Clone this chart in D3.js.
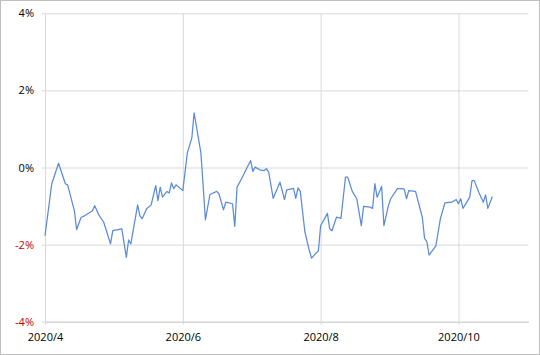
<!DOCTYPE html>
<html><head><meta charset="utf-8">
<script src="https://cdn.jsdelivr.net/npm/d3@7"></script>
<style>
html,body{margin:0;padding:0;background:#fff;}
svg{display:block;}
</style></head>
<body>
<svg id="chart" width="540" height="355"></svg>
<script>
// ---- data ----
const dates = [
"2020-04-01","2020-04-04","2020-04-07","2020-04-10","2020-04-11","2020-04-14","2020-04-15","2020-04-17","2020-04-18","2020-04-22",
"2020-04-23","2020-04-25","2020-04-27","2020-04-30","2020-05-01","2020-05-05","2020-05-07","2020-05-08","2020-05-09","2020-05-12",
"2020-05-13","2020-05-14","2020-05-16","2020-05-18","2020-05-20","2020-05-21","2020-05-22","2020-05-23","2020-05-25","2020-05-26",
"2020-05-27","2020-05-28","2020-05-29","2020-06-01","2020-06-03","2020-06-05","2020-06-06","2020-06-09","2020-06-10","2020-06-11",
"2020-06-13","2020-06-16","2020-06-17","2020-06-19","2020-06-20","2020-06-23","2020-06-24","2020-06-25","2020-06-27","2020-07-01",
"2020-07-02","2020-07-03","2020-07-05","2020-07-07","2020-07-08","2020-07-09","2020-07-11","2020-07-14","2020-07-16","2020-07-17",
"2020-07-20","2020-07-21","2020-07-22","2020-07-23","2020-07-25","2020-07-27","2020-07-28","2020-07-30","2020-07-31","2020-08-01",
"2020-08-04","2020-08-05","2020-08-06","2020-08-08","2020-08-10","2020-08-12","2020-08-13","2020-08-15","2020-08-17","2020-08-19",
"2020-08-20","2020-08-23","2020-08-24","2020-08-25","2020-08-26","2020-08-28","2020-08-29","2020-08-31","2020-09-01","2020-09-04",
"2020-09-06","2020-09-07","2020-09-08","2020-09-09","2020-09-12","2020-09-15","2020-09-16","2020-09-17","2020-09-18","2020-09-21",
"2020-09-23","2020-09-25","2020-09-28","2020-09-30","2020-10-01","2020-10-02","2020-10-03","2020-10-06","2020-10-07","2020-10-08",
"2020-10-10","2020-10-12","2020-10-13","2020-10-14","2020-10-16"
];
const values = [
-1.77,-0.42,0.11,-0.42,-0.45,-1.12,-1.61,-1.29,-1.27,-1.12,
-0.99,-1.25,-1.42,-1.98,-1.64,-1.59,-2.33,-1.88,-1.98,-0.97,
-1.25,-1.33,-1.07,-0.97,-0.47,-0.86,-0.51,-0.77,-0.62,-0.66,
-0.40,-0.55,-0.45,-0.60,0.38,0.77,1.42,0.38,-0.47,-1.36,
-0.70,-0.62,-0.68,-1.10,-0.90,-0.94,-1.53,-0.51,-0.29,0.18,
-0.10,0.01,-0.06,-0.08,-0.03,-0.12,-0.80,-0.38,-0.83,-0.58,
-0.54,-0.80,-0.53,-0.62,-1.66,-2.16,-2.35,-2.22,-2.16,-1.51,
-1.19,-1.59,-1.64,-1.29,-1.32,-0.25,-0.25,-0.62,-0.81,-1.51,
-1.01,-1.03,-1.06,-0.42,-0.77,-0.49,-1.51,-0.99,-0.81,-0.55,
-0.55,-0.56,-0.81,-0.60,-0.62,-1.29,-1.84,-1.92,-2.27,-2.03,
-1.33,-0.92,-0.90,-0.83,-0.94,-0.81,-1.06,-0.77,-0.34,-0.34,
-0.64,-0.90,-0.71,-1.06,-0.75
];
const yTicks = [4, 2, 0, -2, -4];
const xTickDates = ["2020-04-01","2020-06-01","2020-08-01","2020-10-01"];
const xTickLabels = ["2020/4","2020/6","2020/8","2020/10"];
const xDomain = ["2020-04-01","2020-11-01"];

// ---- drawing ----
const parse = d3.utcParse("%Y-%m-%d");
const data = dates.map((d,i)=>({date:parse(d), value:values[i]}));

const svg = d3.select("#chart");
const mLeft = 45, mRight = 528.5, mTop = 13.3, mBottom = 321.7;

const x = d3.scaleUtc().domain(xDomain.map(parse)).range([mLeft, mRight]);
const y = d3.scaleLinear().domain([-4, 4]).range([mBottom, mTop]);

// outer border
svg.append("rect").attr("x",0.5).attr("y",0.5).attr("width",539).attr("height",354)
  .attr("fill","#fff").attr("stroke","#bfbfbf").attr("stroke-width",1);

// horizontal gridlines (y axis)
const yAxis = d3.axisLeft(y).tickValues(yTicks).tickSize(-(mRight-mLeft)).tickSizeOuter(0)
  .tickFormat(d => d + "%").tickPadding(10);
const gy = svg.append("g").attr("transform", `translate(${mLeft},0)`).call(yAxis);
gy.select(".domain").attr("stroke","#d0d0d0");
gy.selectAll(".tick line").attr("stroke","#d9d9d9").attr("stroke-width",1).attr("x1",-3);
gy.selectAll(".tick text")
  .attr("font-family","'Open Sans', 'Noto Sans', sans-serif")
  .attr("font-size","11px")
  .attr("x",-11)
  .attr("fill", d => d < 0 ? "#c00000" : "#000");

// vertical gridlines (x axis)
const xAxis = d3.axisBottom(x).tickValues(xTickDates.map(parse))
  .tickSize(-(mBottom-mTop)).tickSizeOuter(0)
  .tickFormat((d,i) => xTickLabels[i]).tickPadding(12);
const gx = svg.append("g").attr("transform", `translate(0,${mBottom})`).call(xAxis);
gx.select(".domain").attr("stroke","#d0d0d0");
gx.selectAll(".tick line").attr("stroke","#d9d9d9").attr("stroke-width",1).attr("y1",3);
gx.selectAll(".tick text")
  .attr("font-family","'Open Sans', 'Noto Sans', sans-serif")
  .attr("font-size","11px")
  .attr("fill","#000");

// line
const line = d3.line().x(d => x(d.date)).y(d => y(d.value));
svg.append("path").datum(data)
  .attr("fill","none").attr("stroke","#5b8bd6").attr("stroke-width",1.25)
  .attr("stroke-linejoin","round")
  .attr("d", line);
</script>
</body></html>
